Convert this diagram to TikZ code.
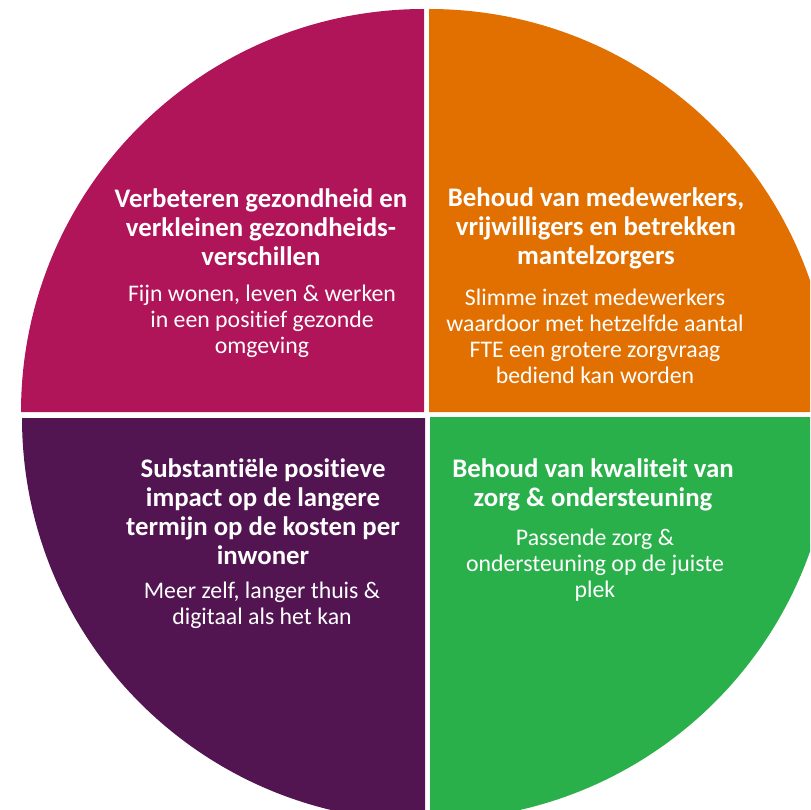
\documentclass[tikz,border=0pt]{standalone}
\usepackage{fontspec}
\setmainfont{Carlito}[Ligatures={NoCommon}]
\definecolor{cmag}{RGB}{175,21,88}
\definecolor{corange}{RGB}{225,112,0}
\definecolor{cpurple}{RGB}{82,21,81}
\definecolor{cgreen}{RGB}{42,176,75}
\tikzset{
  ttl/.style={text=white, align=center, font=\fontsize{26.8}{29}\selectfont\bfseries, inner sep=0pt},
  sub/.style={text=white, align=center, font=\fontsize{23.8}{26}\selectfont, inner sep=0pt},
}
\begin{document}
\begin{tikzpicture}[x=1pt,y=-1pt]
\useasboundingbox (0,0) rectangle (810,810);
\clip (0,0) rectangle (810,810);
\def\R{403}
% quadrants
\fill[cmag] (424,412) -- ++(-\R,0) arc[start angle=180,end angle=270,radius=\R] -- cycle;
\fill[corange] (429,412) -- ++(0,-\R) arc[start angle=270,end angle=360,radius=\R] -- cycle;
\fill[cpurple] (425,418) -- ++(-\R,0) arc[start angle=180,end angle=90,radius=\R] -- cycle;
\fill[cgreen] (430,417) -- ++(\R,0) arc[start angle=0,end angle=90,radius=\R] -- cycle;
% texts
\node[ttl] (t1) at (261,227) {Verbeteren gezondheid en\\verkleinen gezondheids-\\verschillen};
\node[sub] (s1) at (262,321) {Fijn wonen, leven \& werken\\in een positief gezonde\\omgeving};
\node[ttl] (t2) at (596,228) {Behoud van medewerkers,\\vrijwilligers en betrekken\\mantelzorgers};
\node[sub] (s2) at (595,336) {Slimme inzet medewerkers\\waardoor met hetzelfde aantal\\FTE een grotere zorgvraag\\bediend kan worden};
\node[ttl] (t3) at (263,511.5) {Substantiële positieve\\impact op de langere\\termijn op de kosten per\\inwoner};
\node[sub] (s3) at (262,605) {Meer zelf, langer thuis \&\\digitaal als het kan};
\node[ttl] (t4) at (593,484.5) {Behoud van kwaliteit van\\zorg \& ondersteuning};
\node[sub] (s4) at (595,565) {Passende zorg \&\\ondersteuning op de juiste\\plek};
\end{tikzpicture}
\end{document}
